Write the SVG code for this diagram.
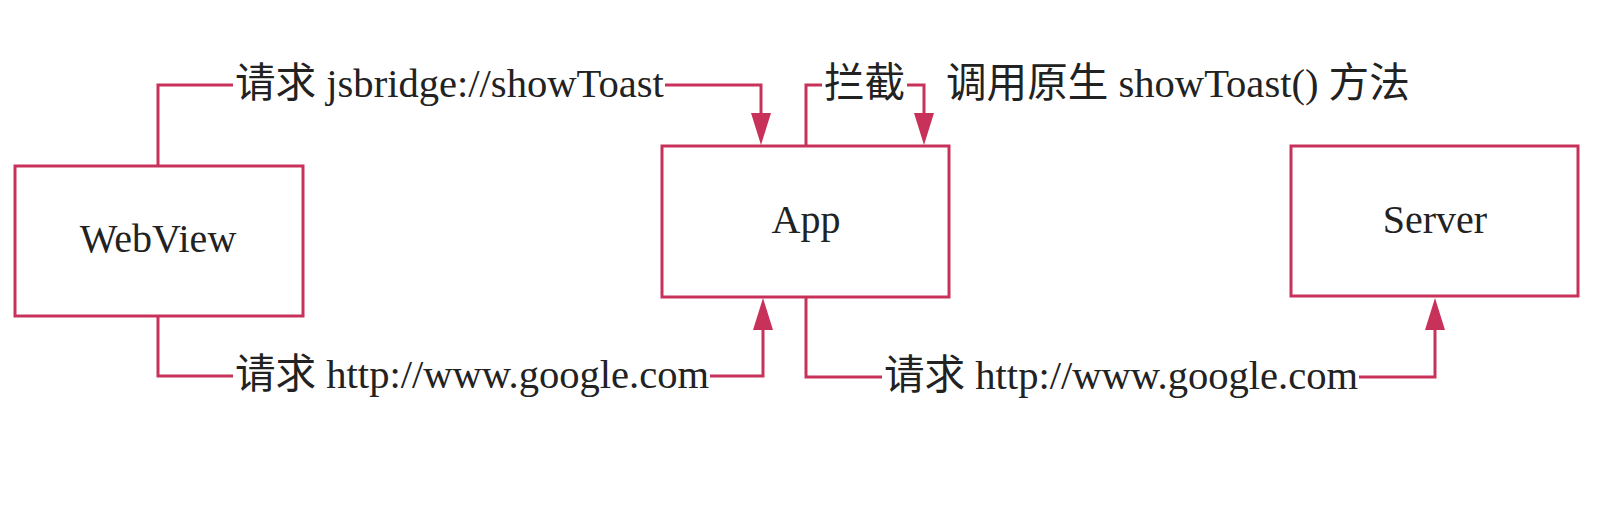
<svg xmlns="http://www.w3.org/2000/svg" width="1604" height="524" viewBox="0 0 1604 524">
<style>
.box{fill:#ffffff;stroke:#c8325a;stroke-width:3}
.con{fill:none;stroke:#c8325a;stroke-width:3}
text{font-family:"Liberation Serif","Noto Sans CJK SC",serif;font-size:40px;fill:#222222}
.lbl{font-size:40.6px}
.c{text-anchor:middle}
</style>
<defs>
<marker id="arr" markerUnits="userSpaceOnUse" viewBox="0 0 32 20" refX="2" refY="10" markerWidth="32" markerHeight="20" orient="auto">
<path d="M0,0 L32,10 L0,20 z" fill="#c8325a"/>
</marker>
</defs>
<rect width="1604" height="524" fill="#ffffff"/>
<g id="connectors">
<path class="con" d="M158,166 V85 H233 M665,85 H761 V115" marker-end="url(#arr)"/>
<path class="con" d="M158,317 V376 H233 M710,376 H763 V328" marker-end="url(#arr)"/>
<path class="con" d="M806,146 V85 H822 M907,85 H924 V115" marker-end="url(#arr)"/>
<path class="con" d="M806,297 V377 H882 M1359,377 H1435 V328" marker-end="url(#arr)"/>
<text class="lbl" x="235" y="97">请求 jsbridge://showToast</text>
<text class="lbl" x="235" y="388">请求 http://www.google.com</text>
<text class="lbl" x="824" y="97">拦截</text>
<text class="lbl" x="946" y="97">调用原生 showToast() 方法</text>
<text class="lbl" x="884" y="389">请求 http://www.google.com</text>
</g>
<g id="webview">
<rect class="box" x="15" y="166" width="288" height="150"/>
<text class="c" x="158" y="252">WebView</text>
</g>
<g id="app">
<rect class="box" x="662" y="146" width="287" height="151"/>
<text class="c" x="806" y="233">App</text>
</g>
<g id="server">
<rect class="box" x="1291" y="146" width="287" height="150"/>
<text class="c" x="1435" y="233">Server</text>
</g>
</svg>
